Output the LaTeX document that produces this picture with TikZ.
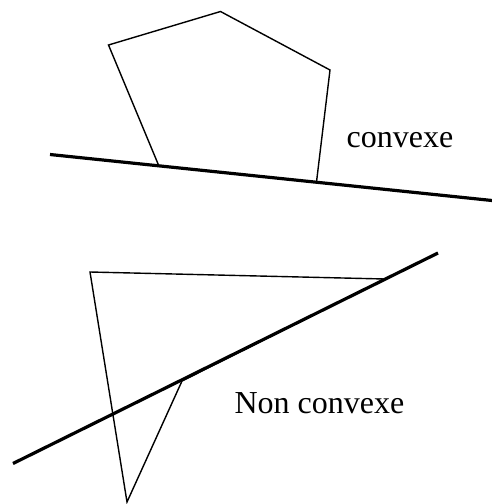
\documentclass[tikz,border=0pt]{standalone}
\usepackage{fontspec}
\setmainfont{Liberation Serif}
\begin{document}
\begin{tikzpicture}[x=1pt,y=-1pt,
  thinedge/.style={line width=1.4pt,line join=miter},
  thickline/.style={line width=3.2pt},
  lbl/.style={font=\fontsize{32}{32}\selectfont,inner sep=0pt}]
\useasboundingbox (0,0) rectangle (492,504);
% convex polygon
\coordinate (p1) at (108.5,45);
\coordinate (p2) at (220.5,11.5);
\coordinate (p3) at (330,70);
\coordinate (p4) at (316.5,182);
\coordinate (p5) at (158.5,165);
\draw[thinedge] (p5) -- (p1) -- (p2) -- (p3) -- (p4);
\coordinate (l1a) at (50,154.5);
\coordinate (l1b) at (492,200.5);
\draw[thickline] (l1a) -- (l1b);
\node[lbl] (c) at (400,140) {convexe};
% non convex polygon
\coordinate (q1) at (90,272);
\coordinate (q2) at (385,279);
\coordinate (q3) at (182,381);
\coordinate (q4) at (127,502);
\draw[thinedge] (q2) -- (q1) -- (q4) -- (q3) -- cycle;
\coordinate (l2a) at (13,463.5);
\coordinate (l2b) at (438,253);
\draw[thickline] (l2a) -- (l2b);
\node[lbl] (nc) at (319.5,403) {Non convexe};
\end{tikzpicture}
\end{document}
